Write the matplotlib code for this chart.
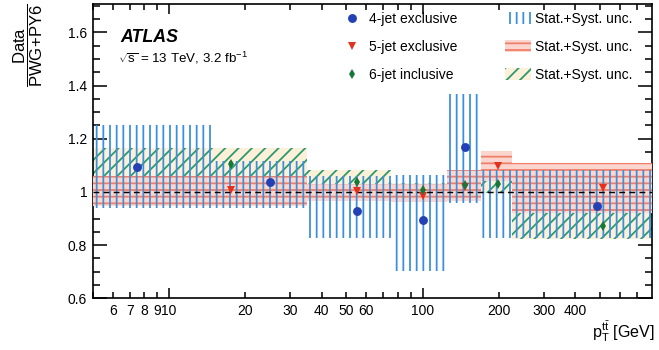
import matplotlib
matplotlib.use("Agg")
import matplotlib.pyplot as plt
import numpy as np
from matplotlib.lines import Line2D
from matplotlib.patches import Patch
from matplotlib.ticker import FixedLocator, FixedFormatter

DPI = 80
XMIN, XMAX = 5, 800

# ── Data ────────────────────────────────────────────────────────────────────────
EDGES_4J = [0, 15, 35, 75, 125, 170, 800]
VAL_4J   = [1.093, 1.038, 0.930, 0.893, 1.170, 0.948]
LO_4J    = [0.940, 0.940, 0.826, 0.704, 0.958, 0.826]
HI_4J    = [1.250, 1.115, 1.060, 1.065, 1.370, 1.084]

EDGES_5J = [0, 35, 75, 125, 170, 225, 800]
VAL_5J   = [1.006, 1.002, 0.985, 1.020, 1.097, 1.015]
LO_5J    = [0.946, 0.965, 0.962, 0.965, 1.040, 0.920]
HI_5J    = [1.060, 1.030, 1.030, 1.084, 1.155, 1.110]

EDGES_6J = [0, 35, 75, 125, 170, 225, 800]
VAL_6J   = [1.104, 1.036, 1.009, 1.028, 1.030, 0.873]
LO_6J    = [1.040, 0.988, 0.985, 0.983, 0.996, 0.823]
HI_6J    = [1.165, 1.084, 1.032, 1.073, 1.078, 0.933]

X_MINOR_TICKS  = [5, 6, 7, 8, 9, 20, 30, 40, 50, 60, 70, 80, 90, 200, 300, 400, 500, 600, 700]
X_MINOR_LABELS = ["", "6", "7", "8", "9", "20", "30", "40", "50", "60", "", "", "",
                  "200", "300", "400", "", "", ""]
X_MAJOR_TICKS  = [10, 100]

BLUE_HATCH = "#3d8fdc"
RED_HATCH  = "#f07e68"
RED_FILL   = "#fad6cf"
GRN_HATCH  = "#2a9870"
GRN_FILL   = "#fdf0d8"
BLUE_MK    = "#2340b4"
RED_MK     = "#e2321e"
GRN_MK     = "#17783a"

FS = 12.5

plt.rcParams["font.family"] = ["Liberation Sans", "DejaVu Sans"]
plt.rcParams["mathtext.fontset"] = "custom"
plt.rcParams["mathtext.rm"] = "Liberation Sans"
plt.rcParams["mathtext.it"] = "Liberation Sans:italic"
plt.rcParams["mathtext.bf"] = "Liberation Sans:bold"
plt.rcParams["hatch.linewidth"] = 1.6


def draw_band(ax, edges, lo, hi, face, hatch, hcolor, z):
    e = np.clip(np.asarray(edges, dtype=float), XMIN, XMAX)
    left, right = e[:-1], e[1:]
    ax.bar(left, np.asarray(hi) - np.asarray(lo), width=right - left, bottom=lo,
           align="edge", facecolor=face, edgecolor=hcolor, linewidth=0,
           hatch=hatch, zorder=z)


def centers(edges):
    e = np.asarray(edges, dtype=float)
    return (e[:-1] + e[1:]) / 2


fig = plt.figure(figsize=(659 / DPI, 350 / DPI), dpi=DPI)
ax = fig.add_axes([92.7 / 659, 1 - 298.3 / 350, (651.7 - 92.7) / 659, (298.3 - 4) / 350])

draw_band(ax, EDGES_6J, LO_6J, HI_6J, GRN_FILL, "//", GRN_HATCH, 2)
draw_band(ax, EDGES_5J, LO_5J, HI_5J, RED_FILL, "--", RED_HATCH, 3)
draw_band(ax, EDGES_4J, LO_4J, HI_4J, "none", "||", BLUE_HATCH, 4)

ax.axhline(1.0, color="black", lw=1.3, ls=(0, (4, 3)), zorder=5)

ax.plot(centers(EDGES_4J), VAL_4J, "o", color=BLUE_MK, ms=8, mew=0, zorder=6)
ax.plot(centers(EDGES_5J), VAL_5J, "v", color=RED_MK, ms=7, mew=0, zorder=6)
ax.plot(centers(EDGES_6J), VAL_6J, "d", color=GRN_MK, ms=6, mew=0, zorder=7)

ax.set_xscale("log")
ax.set_xlim(XMIN, XMAX)
ax.set_ylim(0.6, 1.707)

ax.xaxis.set_major_locator(FixedLocator(X_MAJOR_TICKS))
ax.xaxis.set_major_formatter(FixedFormatter(["10", "100"]))
ax.xaxis.set_minor_locator(FixedLocator(X_MINOR_TICKS))
ax.xaxis.set_minor_formatter(FixedFormatter(X_MINOR_LABELS))
ax.set_yticks(np.arange(0.6, 1.61, 0.2))
ax.set_yticklabels(["0.6", "0.8", "1", "1.2", "1.4", "1.6"])
ax.yaxis.set_minor_locator(FixedLocator(np.arange(0.6, 1.71, 0.05)))

ax.tick_params(which="both", direction="in", top=True, right=True, width=1.4,
               labelsize=FS, colors="black")
ax.tick_params(axis="x", which="major", length=9, pad=5)
ax.tick_params(axis="x", which="minor", length=5, pad=5, labelsize=FS)
ax.tick_params(axis="y", which="major", length=13, pad=5)
ax.tick_params(axis="y", which="minor", length=6.5)
for sp in ax.spines.values():
    sp.set_linewidth(1.5)

fig.text(28 / 659, 1 - 45 / 350, r"$\dfrac{\mathrm{Data}}{\mathrm{PWG\!+\!PY6}}$",
         rotation=90, ha="center", va="center", fontsize=15)
fig.text(655 / 659, 1 - 338 / 350, r"$\mathrm{p}_{\mathrm{T}}^{\mathrm{t\bar{t}}}$ [GeV]",
         ha="right", va="baseline", fontsize=14.5)

fig.text(120 / 659, 1 - 41.7 / 350, "ATLAS", fontsize=16, fontweight="bold",
         fontstyle="italic", va="baseline")
fig.text(118 / 659, 1 - 63 / 350, r"$\sqrt{\mathrm{s}}$ = 13 TeV, 3.2 fb$^{-1}$",
         fontsize=12, va="baseline")

mk_handles = [
    Line2D([], [], ls="none", marker="o", color=BLUE_MK, ms=8, mew=0),
    Line2D([], [], ls="none", marker="v", color=RED_MK, ms=7, mew=0),
    Line2D([], [], ls="none", marker="d", color=GRN_MK, ms=6, mew=0),
]
leg1 = fig.legend(mk_handles, ["4-jet exclusive", "5-jet exclusive", "6-jet inclusive"],
                  loc="upper left", bbox_to_anchor=(339 / 659, 1 - 12 / 350),
                  frameon=False, fontsize=FS, borderpad=0, borderaxespad=0,
                  handlelength=1.85, handletextpad=0.3, labelspacing=1.0)
band_handles = [
    Patch(facecolor="none", edgecolor=BLUE_HATCH, hatch="||", linewidth=0),
    Patch(facecolor=RED_FILL, edgecolor=RED_HATCH, hatch="--", linewidth=0),
    Patch(facecolor=GRN_FILL, edgecolor=GRN_HATCH, hatch="//", linewidth=0),
]
leg2 = fig.legend(band_handles, ["Stat.+Syst. unc."] * 3,
                  loc="upper left", bbox_to_anchor=(505 / 659, 1 - 12 / 350),
                  frameon=False, fontsize=FS, borderpad=0, borderaxespad=0,
                  handlelength=1.85, handleheight=1.0, handletextpad=0.3,
                  labelspacing=1.0)

fig.savefig("out.png", dpi=DPI, facecolor="white")
